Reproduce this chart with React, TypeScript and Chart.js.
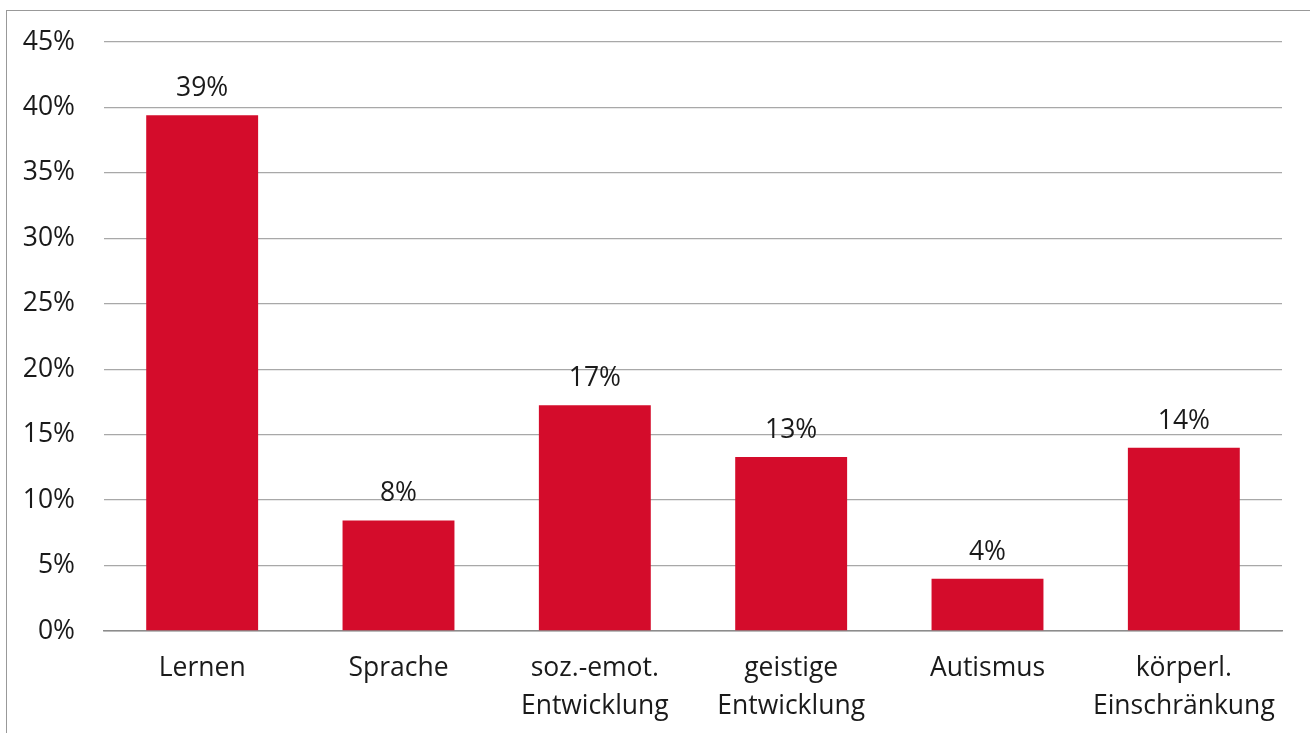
import React, { useEffect, useRef } from "react";
import { Chart, registerables } from "chart.js";

Chart.register(...registerables);

const categories: (string | string[])[] = [
  "Lernen",
  "Sprache",
  ["soz.-emot.", "Entwicklung"],
  ["geistige", "Entwicklung"],
  "Autismus",
  ["körperl.", "Einschränkung"],
];
const values: number[] = [39.4, 8.45, 17.25, 13.3, 4.0, 14.0];
const valueLabels: string[] = ["39%", "8%", "17%", "13%", "4%", "14%"];
const yMax = 45;
const yStep = 5;

const FONT = "'Open Sans', 'DejaVu Sans', sans-serif";
const TEXT = "#1a1a1a";
const BAR = "#D40C2B";
const FS = 26.5;

const valueLabelPlugin = {
  id: "valueLabels",
  afterDatasetsDraw(chart: any) {
    const ctx = chart.ctx;
    const meta = chart.getDatasetMeta(0);
    ctx.save();
    ctx.font = `${FS}px ${FONT}`;
    ctx.fillStyle = TEXT;
    ctx.textAlign = "center";
    ctx.textBaseline = "alphabetic";
    meta.data.forEach((bar: any, i: number) => {
      ctx.fillText(valueLabels[i], bar.x, bar.y - 19);
    });
    ctx.restore();
  },
};

export default function App() {
  const canvasRef = useRef<HTMLCanvasElement | null>(null);

  useEffect(() => {
    if (!canvasRef.current) return;
    const chart = new Chart(canvasRef.current, {
      type: "bar",
      data: {
        labels: categories,
        datasets: [
          {
            data: values,
            backgroundColor: BAR,
            borderWidth: 0,
            barPercentage: 0.57,
            categoryPercentage: 1,
          },
        ],
      },
      options: {
        animation: false,
        responsive: true,
        maintainAspectRatio: false,
        devicePixelRatio: 1,
        layout: { padding: { left: 0, right: 28, top: 42, bottom: 0 } },
        plugins: {
          legend: { display: false },
          tooltip: { enabled: false },
        },
        scales: {
          x: {
            grid: { display: false, drawTicks: false },
            border: { display: true, color: "#8c8c8c", width: 1.5 },
            ticks: {
              color: TEXT,
              padding: 19,
              font: { family: FONT, size: FS, lineHeight: 1.42 },
              maxRotation: 0,
              autoSkip: false,
            },
            afterFit: (scale: any) => {
              scale.height = 102;
            },
          },
          y: {
            min: 0,
            max: yMax,
            grid: { color: "#a8a8a8", lineWidth: 1.3, drawTicks: false },
            border: { display: false },
            ticks: {
              stepSize: yStep,
              color: TEXT,
              padding: 29,
              font: { family: FONT, size: FS },
              callback: (v: any) => `${v}%`,
            },
            afterFit: (scale: any) => {
              scale.width = 104;
              scale.paddingTop = 16;
              scale.paddingBottom = 16;
            },
          },
        },
      },
      plugins: [valueLabelPlugin],
    });
    return () => chart.destroy();
  }, []);

  return (
    <div
      style={{
        position: "fixed",
        left: 0,
        top: 0,
        width: 1310,
        height: 733,
        overflow: "hidden",
        background: "#fff",
      }}
    >
      <div
        style={{
          position: "absolute",
          left: 6,
          top: 10,
          width: 1400,
          height: 800,
          borderTop: "1px solid #999",
          borderLeft: "1px solid #999",
        }}
      />
      <div style={{ position: "absolute", left: 0, top: 0, width: 1310, height: 733 }}>
        <canvas ref={canvasRef} />
      </div>
    </div>
  );
}
